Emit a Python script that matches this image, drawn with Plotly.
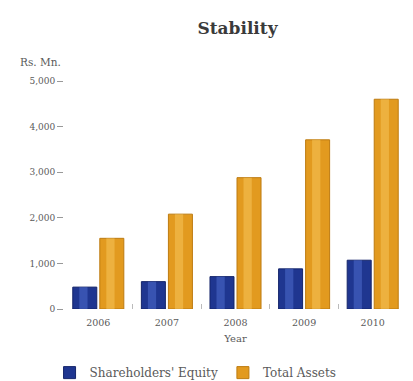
import plotly.graph_objects as go

years = ["2006", "2007", "2008", "2009", "2010"]
equity = [480, 600, 710, 880, 1070]
total_assets = [1550, 2080, 2880, 3710, 4600]
y_ticks = [0, 1000, 2000, 3000, 4000, 5000]
y_tick_text = ["0", "1,000", "2,000", "3,000", "4,000", "5,000"]

font_family = "DejaVu Serif, Liberation Serif, serif"
grey = "#5a5a5a"

# bar slot geometry within each category (category width = 1)
bar_w = 0.35
eq_off = -0.372
ta_off = 0.022
shine_w = 0.12

fig = go.Figure()
fig.add_trace(go.Bar(
    x=years, y=equity, name="Shareholders' Equity",
    width=bar_w, offset=eq_off,
    marker=dict(color="#1f3690", line=dict(color="#15256a", width=1)),
))
fig.add_trace(go.Bar(
    x=years, y=total_assets, name="Total Assets",
    width=bar_w, offset=ta_off,
    marker=dict(color="#e29a1f", line=dict(color="#bd7b10", width=1)),
))
# lighter centre stripes give the bars a rounded look
fig.add_trace(go.Bar(
    x=years, y=equity, showlegend=False, hoverinfo="skip",
    width=shine_w, offset=eq_off + (bar_w - shine_w) / 2 - 0.02,
    marker=dict(color="#4d6ccc", opacity=0.55, line=dict(width=0)),
))
fig.add_trace(go.Bar(
    x=years, y=total_assets, showlegend=False, hoverinfo="skip",
    width=shine_w, offset=ta_off + (bar_w - shine_w) / 2 - 0.02,
    marker=dict(color="#f6c45a", opacity=0.55, line=dict(width=0)),
))

fig.update_layout(
    width=413, height=381,
    margin=dict(l=64, r=6, t=81, b=72),
    paper_bgcolor="white", plot_bgcolor="white",
    font=dict(family=font_family, size=9, color=grey),
    title=dict(text="<b>Stability</b>", xref="container", x=0.575, xanchor="center",
               yref="container", y=0.927, yanchor="middle",
               font=dict(family=font_family, size=17, color="#3a3a3a")),
    barmode="overlay",
    showlegend=True,
    legend=dict(orientation="h", xref="container", x=0.12, xanchor="left",
                yref="container", y=0.022, yanchor="middle",
                font=dict(family=font_family, size=12, color=grey),
                traceorder="normal"),
)
fig.update_xaxes(
    type="category", tickson="boundaries", ticks="inside", ticklen=5,
    tickcolor="#bbbbbb", showline=False, showgrid=False,
    ticklabelstandoff=6,
    title=dict(text="Year", font=dict(family=font_family, size=10, color=grey), standoff=8),
    tickfont=dict(family=font_family, size=9.5, color=grey),
)
fig.update_yaxes(
    range=[0, 5000], tickvals=y_ticks, ticktext=y_tick_text,
    ticks="outside", ticklen=6, tickcolor="#999999",
    showline=False, showgrid=False, zeroline=False,
    tickfont=dict(family=font_family, size=9, color=grey),
)
fig.add_annotation(text="Rs. Mn.", xref="paper", yref="paper", x=-0.134, y=1.083,
                   xanchor="left", yanchor="middle", showarrow=False,
                   font=dict(family=font_family, size=10.5, color=grey))

fig.write_html("out.html")
